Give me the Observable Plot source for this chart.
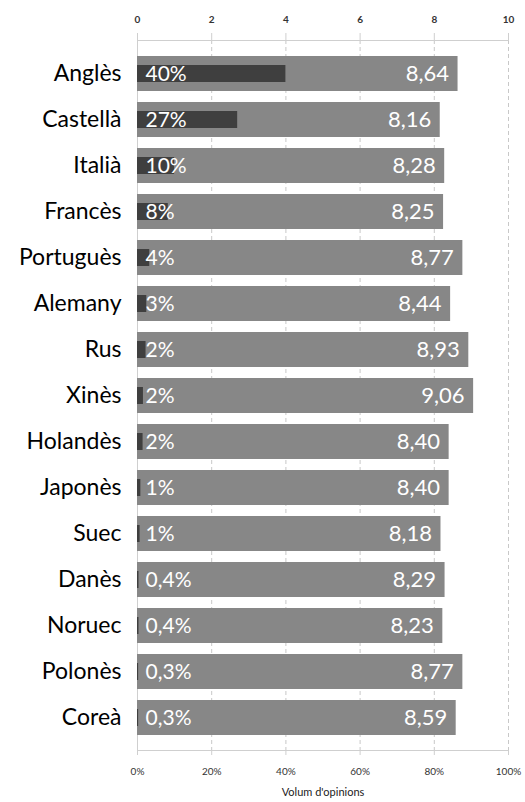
<!DOCTYPE html>
<html><head><meta charset="utf-8">
<script src="https://cdn.jsdelivr.net/npm/d3@7"></script>
<script src="https://cdn.jsdelivr.net/npm/@observablehq/plot@0.6"></script>
<style>body{margin:0;background:#fff}</style>
</head><body><div id="chart"></div>
<script>
const languages = ["Anglès","Castellà","Italià","Francès","Portuguès","Alemany","Rus","Xinès","Holandès","Japonès","Suec","Danès","Noruec","Polonès","Coreà"];
const scores = [8.64,8.16,8.28,8.25,8.77,8.44,8.93,9.06,8.40,8.40,8.18,8.29,8.23,8.77,8.59];
const volumeShare = [40,27,10,8.3,3.3,2.5,2.3,1.6,1.5,0.9,0.7,0.4,0.4,0.3,0.3];
const volumeLabels = ["40%","27%","10%","8%","4%","3%","2%","2%","2%","1%","1%","0,4%","0,4%","0,3%","0,3%"];
const scoreTicks = [0,2,4,6,8,10];
const axisTitle = "Volum d'opinions";

const data = languages.map((lang,i)=>({lang, score:scores[i], vol:volumeShare[i]/10, volLabel:volumeLabels[i]}));
const fmt = v => v.toFixed(2).replace(".", ",");

const chart = Plot.plot({
  width:525, height:802,
  marginTop:40, marginBottom:52, marginLeft:137, marginRight:17,
  style:{fontFamily:"Lato, sans-serif", background:"#fff"},
  x:{domain:[0,10]},
  y:{domain:languages, padding:0.25},
  marks:[
    Plot.gridX(scoreTicks, {stroke:"#c8c8c8", strokeOpacity:1, strokeDasharray:"4,3"}),
    Plot.ruleX([0], {stroke:"#cfcfcf"}),
    Plot.frame({anchor:"top", stroke:"#cfcfcf"}),
    Plot.frame({anchor:"bottom", stroke:"#cfcfcf"}),
    Plot.barX(data, {y:"lang", x1:0, x2:"score", fill:"#878787"}),
    Plot.barX(data, {y:"lang", x1:0, x2:"vol", fill:"#3f3f3f", insetTop:9, insetBottom:9}),
    Plot.text(data, {y:"lang", x:0, text:"volLabel", dx:8, textAnchor:"start", fill:"white", fontSize:21}),
    Plot.text(data, {y:"lang", x:"score", text:d=>fmt(d.score), dx:-9, textAnchor:"end", fill:"white", fontSize:22}),
    Plot.axisX(scoreTicks, {anchor:"top", tickSize:8, tickPadding:10, stroke:"#cfcfcf", fill:"#333", fontSize:10, fontWeight:"bold", label:null}),
    Plot.axisX(scoreTicks, {anchor:"bottom", tickSize:5, tickPadding:12, stroke:"#cfcfcf", fill:"#333", fontSize:10, tickFormat:d=>(d*10)+"%", label:null}),
    Plot.text([axisTitle], {frameAnchor:"bottom", dy:45, fontSize:11, fill:"#222"}),
    Plot.axisY({tickSize:0, tickPadding:16, fontSize:23, fill:"#000", label:null})
  ]
});
document.getElementById("chart").appendChild(chart);
</script>
</body></html>
